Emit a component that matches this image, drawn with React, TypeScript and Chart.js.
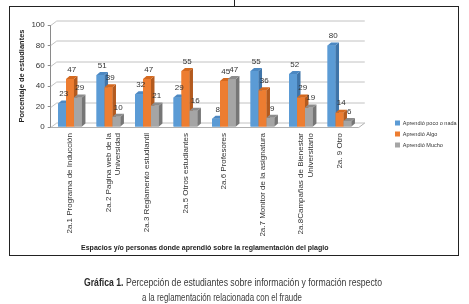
import React, { useEffect, useRef } from "react";
import { Chart, registerables } from "chart.js";

Chart.register(...registerables);

const categories: (string | string[])[] = [
  "2a.1 Programa de Inducción",
  ["2a.2 Pagina web de la", "Universidad"],
  "2a.3 Reglamento estudiantil",
  "2a.5 Otros estudiantes",
  "2a.6 Profesores",
  "2a.7 Monitor de la asignatura",
  ["2a.8Campañas de Bienestar", "Universitario"],
  "2a. 9 Otro",
];
const seriesNames = ["Aprendió poco o nada", "Aprendió Algo", "Aprendió Mucho"];
const pocoONada = [23, 51, 32, 29, 8, 55, 52, 80];
const algo = [47, 39, 47, 55, 45, 36, 29, 14];
const mucho = [29, 10, 21, 16, 47, 9, 19, 6];
const yMin = 0;
const yMax = 100;
const yStep = 10;
const yAxisTitle = "Porcentaje de estudiantes";
const xAxisTitle = "Espacios y/o personas donde aprendió sobre la reglamentación del plagio";
const captionBold = "Gráfica 1.";
const captionLine1 = " Percepción de estudiantes sobre información y formación respecto";
const captionLine2 = "a la reglamentación relacionada con el fraude";

const FONT = '"Liberation Sans", Arial, sans-serif';
const frontColors = ["#5B9BD5", "#ED7D31", "#A5A5A5"];
const sideColors = ["#3F74A8", "#B35A1E", "#767676"];
const topColors = ["#4C88C2", "#D4691F", "#8C8C8C"];

const WDX = 6;
const WDY = 4.5;
const BDX = 3.5;
const BDY = 3;

const threeD = {
  id: "threeD",
  afterLayout(chart: any) {
    const lg = chart.legend;
    if (lg) {
      lg.top -= 6;
      lg.bottom -= 6;
    }
  },
  beforeDatasetsDraw(chart: any) {
    const { ctx, chartArea, scales } = chart;
    const { left, right, bottom } = chartArea;
    const y = scales.y;
    ctx.save();
    ctx.lineWidth = 1;
    ctx.strokeStyle = "#c2c2c2";
    y.ticks.forEach((t: any) => {
      const py = Math.round(y.getPixelForValue(t.value)) + 0.5;
      ctx.beginPath();
      ctx.moveTo(left, py);
      ctx.lineTo(left + WDX, py - WDY);
      ctx.lineTo(right + WDX, py - WDY);
      ctx.stroke();
    });
    const pb = Math.round(bottom) + 0.5;
    ctx.strokeStyle = "#b0b0b0";
    ctx.beginPath();
    ctx.moveTo(left, pb);
    ctx.lineTo(right, pb);
    ctx.lineTo(right + WDX, pb - WDY);
    ctx.stroke();
    ctx.restore();
  },
  afterDatasetsDraw(chart: any) {
    const { ctx } = chart;
    const n = chart.data.labels.length;
    const dsCount = chart.data.datasets.length;
    ctx.save();
    for (let j = 0; j < n; j++) {
      for (let i = 0; i < dsCount; i++) {
        const bar = chart.getDatasetMeta(i).data[j];
        if (!bar) continue;
        const { x, y, base, width } = bar.getProps(["x", "y", "base", "width"], true);
        const l = x - width / 2;
        const r = x + width / 2;
        ctx.fillStyle = frontColors[i];
        ctx.fillRect(l, y, width, base - y);
        ctx.fillStyle = sideColors[i];
        ctx.beginPath();
        ctx.moveTo(r, y);
        ctx.lineTo(r + BDX, y - BDY);
        ctx.lineTo(r + BDX, base - BDY);
        ctx.lineTo(r, base);
        ctx.closePath();
        ctx.fill();
        ctx.fillStyle = topColors[i];
        ctx.beginPath();
        ctx.moveTo(l, y);
        ctx.lineTo(l + BDX, y - BDY);
        ctx.lineTo(r + BDX, y - BDY);
        ctx.lineTo(r, y);
        ctx.closePath();
        ctx.fill();
      }
    }
    ctx.font = `8px ${FONT}`;
    ctx.fillStyle = "#333";
    ctx.textAlign = "center";
    ctx.textBaseline = "middle";
    chart.data.datasets.forEach((ds: any, i: number) => {
      const meta = chart.getDatasetMeta(i);
      meta.data.forEach((bar: any, j: number) => {
        const { x, y } = bar.getProps(["x", "y"], true);
        ctx.fillText(String(ds.data[j]), x + BDX / 2, y - 9.5);
      });
    });
    ctx.restore();
  },
};

export default function App() {
  const ref = useRef<HTMLCanvasElement>(null);
  useEffect(() => {
    const seriesData = [pocoONada, algo, mucho];
    const chart = new Chart(ref.current as HTMLCanvasElement, {
      type: "bar",
      data: {
        labels: categories,
        datasets: seriesNames.map((name, i) => ({
          label: name,
          data: seriesData[i],
          backgroundColor: frontColors[i],
          borderWidth: 0,
          barPercentage: 1,
          categoryPercentage: 0.62,
        })),
      },
      options: {
        responsive: false,
        animation: false,
        devicePixelRatio: 1,
        layout: { padding: { top: 18, right: 0, bottom: 0, left: 0 } },
        plugins: {
          legend: {
            position: "right",
            maxWidth: 68.5,
            labels: {
              boxWidth: 5,
              boxHeight: 5,
              padding: 5.5,
              color: "#333",
              font: { size: 5.5, family: FONT },
            },
          },
          tooltip: { enabled: false },
        },
        scales: {
          x: {
            grid: { display: false, drawTicks: false },
            border: { display: false },
            ticks: {
              autoSkip: false,
              minRotation: 90,
              maxRotation: 90,
              padding: 6,
              color: "#333",
              font: { size: 8, family: FONT },
            },
            title: {
              display: true,
              text: xAxisTitle,
              color: "#222",
              font: { size: 7, weight: "bold", family: FONT },
              padding: { top: 2, bottom: 2.5 },
            },
            afterFit: (s: any) => {
              s.height = 128;
            },
          },
          y: {
            min: yMin,
            max: yMax,
            ticks: { stepSize: yStep, color: "#333", padding: 3, font: { size: 8, family: FONT } },
            grid: { display: true, drawOnChartArea: false, tickLength: 3, color: "#8a8a8a" },
            border: { display: true, color: "#8a8a8a" },
            title: {
              display: true,
              text: yAxisTitle,
              color: "#222",
              font: { size: 7.5, weight: "bold", family: FONT },
              padding: { top: 7.2, bottom: 0 },
            },
            afterFit: (s: any) => {
              s.width = 40.75;
            },
          },
          y2: {
            position: "right",
            grid: { display: false, drawTicks: false },
            border: { display: false },
            ticks: { display: false },
            afterFit: (s: any) => {
              s.width = 30.75;
            },
          },
        },
      } as any,
      plugins: [threeD],
    });
    return () => chart.destroy();
  }, []);

  return (
    <div
      style={{
        position: "absolute",
        left: 0,
        top: 0,
        width: 469,
        height: 304,
        background: "#fff",
        overflow: "hidden",
      }}
    >
      <div style={{ position: "absolute", left: 234, top: 0, width: 1, height: 7, background: "#222" }} />
      <div
        style={{
          position: "absolute",
          left: 9,
          top: 6,
          width: 448,
          height: 248,
          border: "1px solid #222",
          background: "#fff",
        }}
      >
        <canvas ref={ref} width={448} height={248} style={{ display: "block", width: 448, height: 248 }} />
      </div>
      <svg
        width={469}
        height={304}
        style={{ position: "absolute", left: 0, top: 0, pointerEvents: "none" }}
      >
        <text
          x={84}
          y={286}
          textLength={298}
          lengthAdjust="spacingAndGlyphs"
          style={{ fontFamily: FONT, fontSize: 10.5, fill: "#3a3a3a" }}
        >
          <tspan style={{ fontWeight: "bold", fill: "#2a2a2a" }}>{captionBold}</tspan>
          <tspan>{captionLine1}</tspan>
        </text>
        <text
          x={142}
          y={300.5}
          textLength={160}
          lengthAdjust="spacingAndGlyphs"
          style={{ fontFamily: FONT, fontSize: 10.5, fill: "#3a3a3a" }}
        >
          {captionLine2}
        </text>
      </svg>
    </div>
  );
}
